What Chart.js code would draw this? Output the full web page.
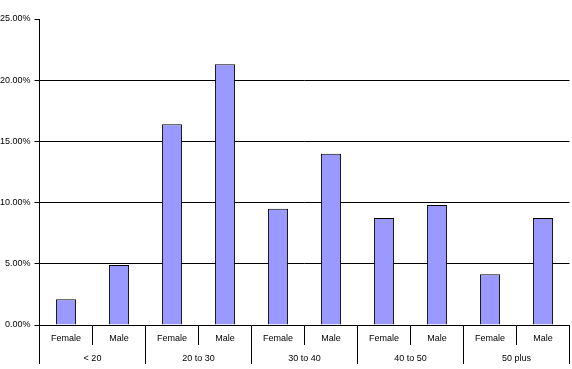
<!DOCTYPE html>
<html>
<head>
<meta charset="utf-8">
<script src="https://cdn.jsdelivr.net/npm/chart.js@4/dist/chart.umd.min.js"></script>
<style>
  html, body { margin: 0; padding: 0; background: #fff; }
  #wrap { width: 572px; height: 369px; }
</style>
</head>
<body>
<div id="wrap"><canvas id="chart"></canvas></div>
<script>
const genders = ["Female", "Male", "Female", "Male", "Female", "Male", "Female", "Male", "Female", "Male"];
const ageGroups = ["< 20", "20 to 30", "30 to 40", "40 to 50", "50 plus"];
const shares = [2.1, 4.9, 16.4, 21.3, 9.5, 14.0, 8.75, 9.8, 4.15, 8.75];

Chart.defaults.font.family = "'Liberation Sans', Arial, sans-serif";
Chart.defaults.font.size = 9;
Chart.defaults.color = "#000";

new Chart(document.getElementById("chart"), {
  type: "bar",
  data: {
    labels: genders,
    datasets: [{
      data: shares,
      backgroundColor: "#9999ff",
      borderColor: "#000",
      borderWidth: 1,
      barPercentage: 0.38,
      categoryPercentage: 1
    }]
  },
  options: {
    responsive: true,
    maintainAspectRatio: false,
    animation: false,
    layout: { padding: { top: 19, right: 2.5, bottom: 5, left: 0 } },
    plugins: { legend: { display: false }, tooltip: { enabled: false } },
    scales: {
      y: {
        min: 0,
        max: 25,
        ticks: { stepSize: 5, padding: 4, callback: (v) => v.toFixed(2) + "%" },
        grid: {
          color: (c) => (c.tick && c.tick.value === 25 ? "transparent" : "#000"),
          tickColor: "#000",
          tickLength: 5
        },
        border: { color: "#000" },
        afterFit: (s) => { s.width = 39.5; }
      },
      x: {
        offset: true,
        grid: { offset: true, drawOnChartArea: false, color: "#000", tickLength: 20 },
        border: { color: "#000" },
        ticks: { padding: -12, maxRotation: 0, autoSkip: false },
        afterFit: (s) => { s.height = 20; }
      },
      x2: {
        type: "category",
        position: "bottom",
        labels: ageGroups,
        offset: true,
        grid: { offset: true, drawOnChartArea: false, color: "#000", tickLength: 19 },
        border: { display: false },
        ticks: { padding: -11, maxRotation: 0, autoSkip: false },
        afterFit: (s) => { s.height = 19; }
      }
    }
  }
});
</script>
</body>
</html>
